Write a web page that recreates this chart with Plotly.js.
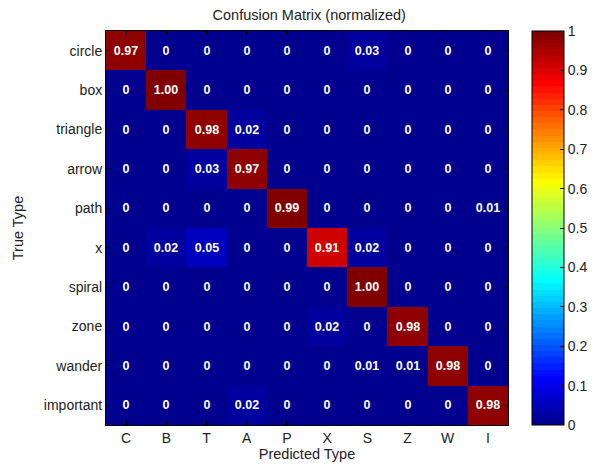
<!DOCTYPE html>
<html>
<head>
<meta charset="utf-8">
<script src="https://cdn.plot.ly/plotly-3.0.1.min.js"></script>
<style>html,body{margin:0;padding:0;background:#fff;}#chart{width:604px;height:466px;}</style>
</head>
<body>
<div id="chart"></div>
<script>
var predictedLabels = ["C","B","T","A","P","X","S","Z","W","I"];
var trueLabels = ["circle","box","triangle","arrow","path","x","spiral","zone","wander","important"];
var rowCircle    = [0.97,0,0,0,0,0,0.03,0,0,0];
var rowBox       = [0,1.00,0,0,0,0,0,0,0,0];
var rowTriangle  = [0,0,0.98,0.02,0,0,0,0,0,0];
var rowArrow     = [0,0,0.03,0.97,0,0,0,0,0,0];
var rowPath      = [0,0,0,0,0.99,0,0,0,0,0.01];
var rowX         = [0,0.02,0.05,0,0,0.91,0.02,0,0,0];
var rowSpiral    = [0,0,0,0,0,0,1.00,0,0,0];
var rowZone      = [0,0,0,0,0,0.02,0,0.98,0,0];
var rowWander    = [0,0,0,0,0,0,0.01,0.01,0.98,0];
var rowImportant = [0,0,0,0.02,0,0,0,0,0,0.98];
var colorbarTicks = [0,0.1,0.2,0.3,0.4,0.5,0.6,0.7,0.8,0.9,1];

var z = [rowCircle,rowBox,rowTriangle,rowArrow,rowPath,rowX,rowSpiral,rowZone,rowWander,rowImportant];
var text = z.map(function(r){return r.map(function(v){return v===0?"0":v.toFixed(2);});});

// MATLAB jet(64)
function jet(m){
  var n = Math.ceil(m/4), u=[], i;
  for(i=1;i<=n;i++) u.push(i/n);
  for(i=1;i<n;i++) u.push(1);
  for(i=n;i>=1;i--) u.push(i/n);
  var gOff = Math.ceil(n/2) - (m%4===1?1:0);
  var cm = []; for(i=0;i<m;i++) cm.push([0,0,0]);
  for(var k=1;k<=u.length;k++){
    var g=gOff+k, r=g+n, b=g-n;
    if(g>=1&&g<=m) cm[g-1][1]=u[k-1];
    if(r>=1&&r<=m) cm[r-1][0]=u[k-1];
    if(b>=1&&b<=m) cm[b-1][2]=u[k-1];
  }
  return cm;
}
var cmap = jet(64), cs=[];
cmap.forEach(function(c,i){
  var s='rgb('+Math.round(c[0]*255)+','+Math.round(c[1]*255)+','+Math.round(c[2]*255)+')';
  cs.push([i/64,s]); cs.push([(i+1)/64,s]);
});

var font = "Arial, 'Liberation Sans', Helvetica, sans-serif";
var trace = {
  type:'heatmap', z:z, x:predictedLabels, y:trueLabels,
  zmin:0, zmax:1, colorscale:cs, zsmooth:false,
  text:text, texttemplate:'%{text}',
  textfont:{color:'white', size:12.5, family:font, weight:'bold'},
  hoverinfo:'skip',
  colorbar:{
    x:1.059, xanchor:'left', xref:'paper', y:0.5, yanchor:'middle', len:1, lenmode:'fraction',
    thickness:32, thicknessmode:'pixels', outlinewidth:1, outlinecolor:'#000',
    tickvals:colorbarTicks, ticktext:colorbarTicks.map(String),
    ticks:'inside', ticklen:4, tickcolor:'#000', tickwidth:1,
    tickfont:{family:font, size:14, color:'#222'}, xpad:0, ypad:0
  }
};
var layout = {
  width:604, height:466,
  margin:{l:106, r:91, t:31, b:41},
  paper_bgcolor:'#fff', plot_bgcolor:'#fff',
  font:{family:font, color:'#222'},
  title:{text:'Confusion Matrix (normalized)', font:{size:14.5, family:font, color:'#222'}, x:0.512, xanchor:'center', y:0.968, yanchor:'middle'},
  xaxis:{title:{text:'Predicted Type', font:{size:14.5}, standoff:3}, tickfont:{size:14},
    ticks:'inside', ticklen:4, tickcolor:'#000', showline:true, linecolor:'#000', linewidth:1, mirror:'ticks', showgrid:false, zeroline:false},
  yaxis:{title:{text:'True Type', font:{size:14.5}, standoff:16}, tickfont:{size:14}, autorange:'reversed',
    ticks:'inside', ticklen:4, tickcolor:'#000', showline:true, linecolor:'#000', linewidth:1, mirror:'ticks', showgrid:false, zeroline:false}
};
Plotly.newPlot('chart',[trace],layout,{displayModeBar:false, staticPlot:true});
</script>
</body>
</html>
